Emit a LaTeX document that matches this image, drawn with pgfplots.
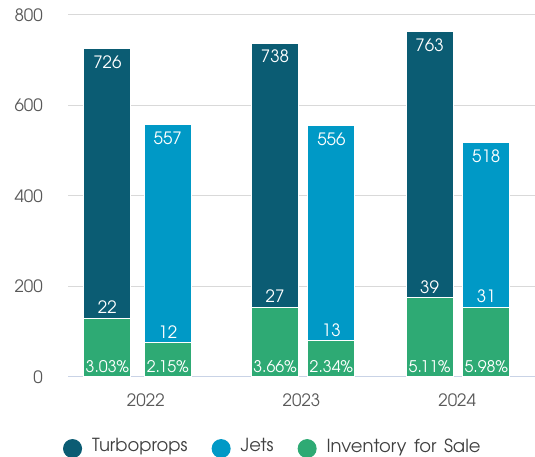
\documentclass[border=0pt]{standalone}
\usepackage{pgfplots}
\usepackage{pgfplotstable}
\usepackage{fontspec}
\setmainfont{texgyreadventor}[Extension=.otf, UprightFont=*-regular, BoldFont=*-bold]
\newfontfamily\legfont{texgyreadventor}[Extension=.otf, UprightFont=*-regular, WordSpace=1.5]
\pgfplotsset{compat=1.18}
\definecolor{turbo}{HTML}{0B5C73}
\definecolor{jets}{HTML}{0099C6}
\definecolor{inv}{HTML}{2EAA74}
\definecolor{tickgray}{HTML}{595959}
\definecolor{leggray}{HTML}{404040}
\definecolor{gridgray}{HTML}{D9D9D9}
\definecolor{basecol}{HTML}{C9D3E6}
\pgfplotstableread{
x total
0.253 726
1.330 738
2.323 763
}\turbo
\pgfplotstableread{
x total
0.641 557
1.692 556
2.687 518
}\jets
\pgfplotstableread{
x inv count pct base
0.253 130 22 3.03 0
0.641 76 12 2.15 0
1.330 154 27 3.66 0
1.692 80 13 2.34 0
2.323 175 39 5.11 0
2.687 154 31 5.98 0
}\inventory
\begin{document}
\fontsize{17bp}{20bp}\selectfont
\begin{tikzpicture}
\useasboundingbox (0,0) rectangle (535bp,457bp);
\begin{axis}[
  at={(68bp,80bp)}, anchor=south west,
  scale only axis, width=467bp, height=362bp,
  xmin=0, xmax=3, ymin=0, ymax=800,
  clip=false,
  xtick={0.5,1.5,2.5}, xticklabels={2022,2023,2024},
  ytick={0,200,400,600,800},
  ymajorgrids, major grid style={gridgray, line width=1bp},
  separate axis lines,
  axis x line*=bottom, axis y line*=left,
  x axis line style={basecol, line width=1bp, -},
  y axis line style={draw=none},
  major tick length=0pt,
  tick label style={font=\fontsize{17bp}{20bp}\selectfont, text=tickgray},
  yticklabel style={anchor=east, inner sep=0pt, xshift=-25bp},
  xticklabel style={anchor=center, inner sep=0pt, yshift=-23bp},
  /pgf/number format/assume math mode=true,
  legend columns=3,
  legend style={draw=none, fill=none, inner sep=0pt, at={(-0.011,-0.197)}, anchor=west,
    font=\legfont\fontsize{18bp}{21bp}\selectfont\color{leggray},
    nodes={inner sep=0pt},
    /tikz/every odd column/.append style={column sep=10bp},
    /tikz/every even column/.append style={column sep=24bp}},
]
\addplot[ybar, bar shift=0pt, bar width=47bp, fill=turbo, draw=white, line width=1bp,
  nodes near coords, every node near coord/.style={anchor=center, yshift=-13.5bp, text=white, font=\fontsize{17bp}{20bp}\selectfont},
  legend image code/.code={\fill[turbo] (9bp,-2bp) circle (9bp);}]
  table[x=x, y=total] {\turbo};
\addlegendentry{Turboprops}
\addplot[ybar, bar shift=0pt, bar width=47bp, fill=jets, draw=white, line width=1bp,
  nodes near coords, every node near coord/.style={anchor=center, yshift=-13.5bp, text=white, font=\fontsize{17bp}{20bp}\selectfont},
  legend image code/.code={\fill[jets] (9bp,-2bp) circle (9bp);}]
  table[x=x, y=total] {\jets};
\addlegendentry{Jets}
\addplot[ybar, bar shift=0pt, bar width=47bp, fill=inv, draw=white, line width=1bp,
  point meta=explicit symbolic,
  nodes near coords, every node near coord/.style={anchor=center, yshift=11bp, text=white, font=\fontsize{17bp}{20bp}\selectfont},
  legend image code/.code={\fill[inv] (9bp,-2bp) circle (9bp);}]
  table[x=x, y=inv, meta=count] {\inventory};
\addlegendentry{Inventory for Sale}
\addplot[draw=none, mark=none, forget plot,
  point meta=explicit symbolic,
  nodes near coords={\pgfplotspointmeta\%},
  every node near coord/.style={anchor=center, yshift=10bp, text=white, font=\fontsize{16bp}{19bp}\selectfont}]
  table[x=x, y=base, meta=pct] {\inventory};
\end{axis}
\end{tikzpicture}
\end{document}
